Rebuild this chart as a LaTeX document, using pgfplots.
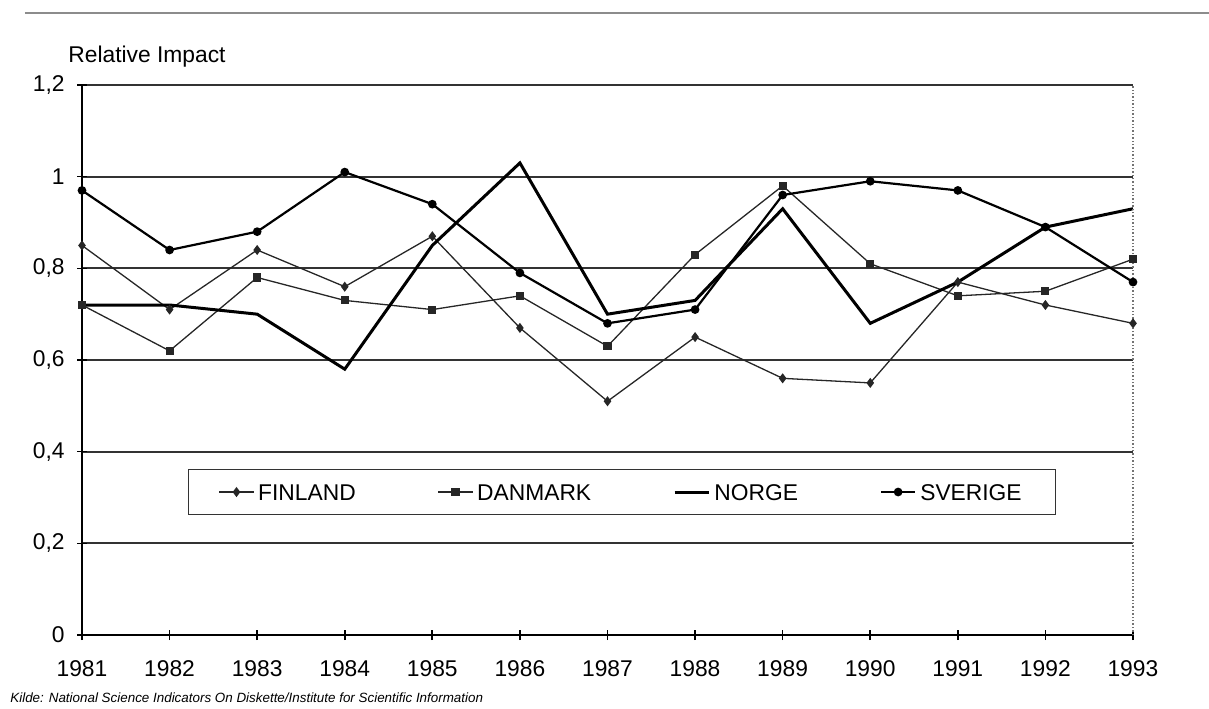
\documentclass[border=0pt]{standalone}
\usepackage{fontspec}
\setmainfont{Liberation Sans}
\usepackage{pgfplots}
\usepackage{pgfplotstable}
\pgfplotsset{compat=1.18}

% Relative impact
\pgfplotstableread{
year fin  dan  nor  sve
1981 0.85 0.72 0.72 0.97
1982 0.71 0.62 0.72 0.84
1983 0.84 0.78 0.70 0.88
1984 0.76 0.73 0.58 1.01
1985 0.87 0.71 0.85 0.94
1986 0.67 0.74 1.03 0.79
1987 0.51 0.63 0.70 0.68
1988 0.65 0.83 0.73 0.71
1989 0.56 0.98 0.93 0.96
1990 0.55 0.81 0.68 0.99
1991 0.77 0.74 0.77 0.97
1992 0.72 0.75 0.89 0.89
1993 0.68 0.82 0.93 0.77
}\impact

\begin{document}
\fontsize{11.4}{13}\selectfont
\begin{tikzpicture}
\useasboundingbox (-41pt,-36.5pt) rectangle (563.5pt,317.5pt);
\draw[black!45, line width=0.6pt] (-28.5pt,311pt) -- (563.5pt,311pt);
\begin{axis}[
  at={(0pt,0pt)}, anchor=south west,
  scale only axis, width=525.5pt, height=275pt,
  xmin=1981, xmax=1993, ymin=0, ymax=1.2,
  clip=false,
  axis lines=left, axis line style={-, line width=1pt, black},
  xtick={1981,...,1993}, ytick={0,0.2,0.4,0.6,0.8,1,1.2},
  ymajorgrids, grid style={black!80, line width=0.85pt},
  tick align=center, major tick length=5pt, tick style={black, line width=0.8pt},
  /pgf/number format/assume math mode=true,
  xticklabel style={/pgf/number format/1000 sep={}, anchor=north, inner sep=0pt, yshift=-10pt},
  yticklabel style={/pgf/number format/.cd, use comma, fixed, precision=1, /tikz/.cd, anchor=east, inner sep=0pt, xshift=-6pt},
  legend style={at={(rel axis cs:0.514,0.26)}, anchor=center, draw=black!80,
    legend columns=4, inner xsep=15pt, inner ysep=5pt, font=\fontsize{11.4}{13}\selectfont,
    nodes={text height=8.2pt, text depth=0pt}},
  /tikz/every even column/.append style={column sep=39pt},
  legend cell align=left,
]
\addplot[black!85, line width=0.65pt, mark=diamond*, mark size=2pt] table[x=year, y=fin] {\impact};
\addlegendentry{FINLAND}
\addplot[black!85, line width=0.65pt, mark=square*, mark size=1.7pt] table[x=year, y=dan] {\impact};
\addlegendentry{DANMARK}
\addplot[black, line width=1.5pt] table[x=year, y=nor] {\impact};
\addlegendentry{NORGE}
\addplot[black, line width=1.1pt, mark=*, mark size=1.6pt] table[x=year, y=sve] {\impact};
\addlegendentry{SVERIGE}
\draw[black!55, densely dotted, line width=0.7pt] (rel axis cs:1,0) -- (rel axis cs:1,1);
\end{axis}
\node[anchor=base west, inner sep=0pt] at (-7pt,286pt) {Relative Impact};
\node[anchor=base west, inner sep=0pt, font=\fontsize{6.7}{8}\selectfont\itshape] at (-36pt,-33.5pt)
  {Kilde: National Science Indicators On Diskette/Institute for Scientific Information};
\end{tikzpicture}
\end{document}
